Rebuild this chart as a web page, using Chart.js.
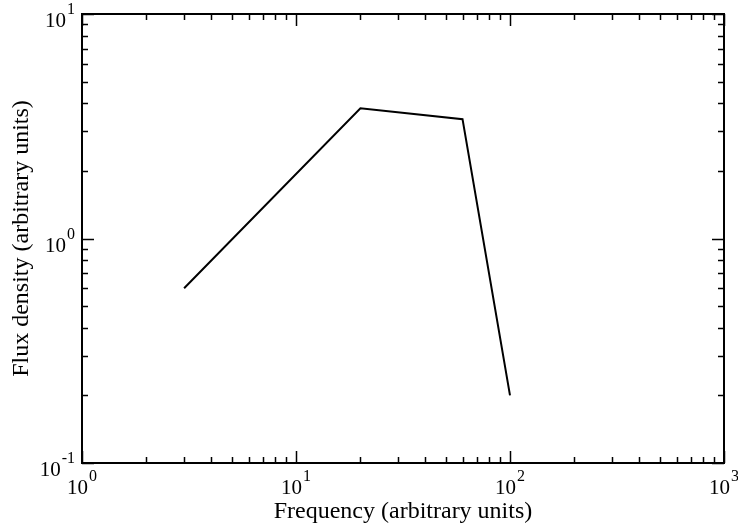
<!DOCTYPE html>
<html>
<head>
<meta charset="utf-8">
<title>Flux density spectrum</title>
<script src="https://cdn.jsdelivr.net/npm/chart.js@4.4.1/dist/chart.umd.min.js"></script>
<style>
  html, body { margin: 0; padding: 0; background: #ffffff; }
  #wrap { width: 738px; height: 529px; }
</style>
</head>
<body>
<div id="wrap"><canvas id="chart" width="738" height="529"></canvas></div>
<script>
// Broken power-law spectrum: frequency vs flux density
const frequency = [3, 20, 60, 100];
const fluxDensity = [0.6, 3.8, 3.4, 0.2];

// Decade ticks and their exponents (labels are drawn as 10^n)
const xTickValues = [1, 10, 100, 1000];
const xTickExponents = ['0', '1', '2', '3'];
const yTickValues = [0.1, 1, 10];
const yTickExponents = ['-1', '0', '1'];

const xTitle = 'Frequency (arbitrary units)';
const yTitle = 'Flux density (arbitrary units)';

const FONT = '"Liberation Serif", "Times New Roman", serif';

// Minor tick positions (2..9 within each decade between the given limits)
function minorTicks(min, max) {
  const out = [];
  for (let d = Math.floor(Math.log10(min)); d < Math.ceil(Math.log10(max)); d++) {
    for (let m = 2; m <= 9; m++) {
      const v = m * Math.pow(10, d);
      if (v > min && v < max) out.push(v);
    }
  }
  return out;
}

// Frame, inward ticks on all four sides and 10^n labels
const frameAndTicks = {
  id: 'frameAndTicks',
  afterDraw(chart) {
    const { ctx, chartArea: a, scales: { x, y } } = chart;
    const major = 12, minor = 6;
    ctx.save();
    ctx.strokeStyle = '#000';
    ctx.lineWidth = 1.5;
    ctx.beginPath();
    const tickX = (v, len) => {
      const p = Math.round(x.getPixelForValue(v)) + 0.5;
      ctx.moveTo(p, a.bottom); ctx.lineTo(p, a.bottom - len);
      ctx.moveTo(p, a.top); ctx.lineTo(p, a.top + len);
    };
    const tickY = (v, len) => {
      const p = Math.round(y.getPixelForValue(v)) + 0.5;
      ctx.moveTo(a.left, p); ctx.lineTo(a.left + len, p);
      ctx.moveTo(a.right, p); ctx.lineTo(a.right - len, p);
    };
    xTickValues.forEach(v => tickX(v, major));
    minorTicks(x.min, x.max).forEach(v => tickX(v, minor));
    yTickValues.forEach(v => tickY(v, major));
    minorTicks(y.min, y.max).forEach(v => tickY(v, minor));
    ctx.stroke();

    ctx.lineWidth = 2;
    ctx.strokeRect(a.left, a.top, a.right - a.left, a.bottom - a.top);

    // Exponent-style labels
    const baseFont = '21px ' + FONT, expFont = '16px ' + FONT;
    const gap = 1, raise = 13;
    ctx.fillStyle = '#000';
    ctx.textBaseline = 'alphabetic';
    ctx.textAlign = 'left';
    const widths = (exp) => {
      ctx.font = baseFont; const wb = ctx.measureText('10').width;
      ctx.font = expFont; const we = ctx.measureText(exp).width;
      return [wb, we];
    };
    const drawLabel = (left, baseline, exp, wb) => {
      ctx.font = baseFont;
      ctx.fillText('10', left, baseline);
      ctx.font = expFont;
      ctx.fillText(exp, left + wb + gap, baseline - raise);
    };
    xTickValues.forEach((v, i) => {
      const p = x.getPixelForValue(v);
      const [wb, we] = widths(xTickExponents[i]);
      drawLabel(p - (wb + gap + we) / 2, a.bottom + 31, xTickExponents[i], wb);
    });
    yTickValues.forEach((v, i) => {
      const p = y.getPixelForValue(v);
      const [wb, we] = widths(yTickExponents[i]);
      drawLabel(a.left - 7 - (wb + gap + we), p + 13, yTickExponents[i], wb);
    });
    ctx.restore();
  }
};

new Chart(document.getElementById('chart'), {
  type: 'line',
  data: {
    datasets: [{
      data: frequency.map((f, i) => ({ x: f, y: fluxDensity[i] })),
      borderColor: '#000000',
      borderWidth: 2,
      pointRadius: 0,
      fill: false,
      tension: 0
    }]
  },
  options: {
    responsive: false,
    animation: false,
    events: [],
    layout: { padding: { top: 14, right: 14, left: 0, bottom: 0 } },
    plugins: { legend: { display: false }, tooltip: { enabled: false } },
    scales: {
      x: {
        type: 'logarithmic',
        min: 1, max: 1000,
        grid: { display: false, drawTicks: false },
        border: { display: false },
        ticks: { display: false },
        title: {
          display: true, text: xTitle, color: '#000',
          font: { family: FONT, size: 24 }, padding: { top: 0, bottom: 3 }
        },
        afterFit(scale) { scale.height = 66; }
      },
      y: {
        type: 'logarithmic',
        min: 0.1, max: 10,
        grid: { display: false, drawTicks: false },
        border: { display: false },
        ticks: { display: false },
        title: {
          display: true, text: yTitle, color: '#000',
          font: { family: FONT, size: 24 }, padding: { top: 7, bottom: 0 }
        },
        afterFit(scale) { scale.width = 82; }
      }
    }
  },
  plugins: [frameAndTicks]
});
</script>
</body>
</html>
